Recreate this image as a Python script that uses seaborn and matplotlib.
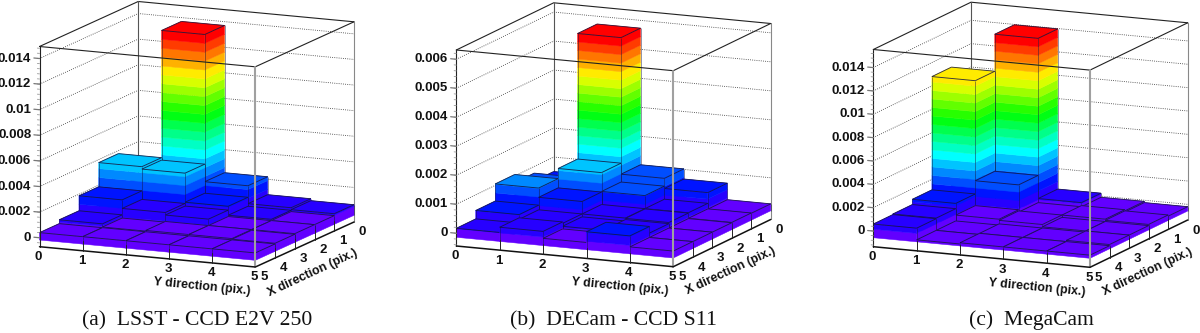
import numpy as np
import matplotlib
matplotlib.use("Agg")
import matplotlib.pyplot as plt
import seaborn as sns
from mpl_toolkits.mplot3d import proj3d
from mpl_toolkits.mplot3d.art3d import Poly3DCollection, Line3DCollection

sns.set_theme(style="white")
plt.rcParams["font.family"] = ["Liberation Sans", "DejaVu Sans"]

W, H = 1200, 333

# rows: X bin 0..4 (back to front), columns: Y bin 0..4 (left to right)
lsst_values = [
    [0.0012, 0.01370, 0.00220, 0.00080, 0.00065],
    [0.00376, 0.00357, 0.00130, 0.00060, 0.00050],
    [0.00187, 0.00120, 0.00100, 0.00050, 0.00050],
    [0.00070, 0.00045, 0.00050, 0.00050, 0.00045],
    [0.00040, 0.00040, 0.00040, 0.00040, 0.00040],
]
decam_values = [
    [0.00050, 0.00573, 0.00102, 0.00067, 0.00010],
    [0.00077, 0.00140, 0.00075, 0.00030, 0.00011],
    [0.00105, 0.00073, 0.00030, 0.00029, 0.00010],
    [0.00046, 0.00030, 0.00020, 0.00025, 0.00010],
    [0.00017, 0.00035, 0.00011, 0.00048, 0.00010],
]
megacam_values = [
    [0.00080, 0.01397, 0.00025, -0.00010, -0.00020],
    [0.01080, 0.00223, -0.00010, 0.00000, -0.00010],
    [0.00110, 0.00010, 0.00000, -0.00020, -0.00020],
    [0.00065, -0.00040, -0.00030, -0.00030, -0.00020],
    [0.00060, -0.00040, -0.00030, -0.00030, -0.00030],
]
lsst_ticks = [0, 0.002, 0.004, 0.006, 0.008, 0.01, 0.012, 0.014]
decam_ticks = [0, 0.001, 0.002, 0.003, 0.004, 0.005, 0.006]
megacam_ticks = lsst_ticks
captions = ["(a)  LSST - CCD E2V 250", "(b)  DECam - CCD S11", "(c)  MegaCam"]
bin_ticks = [0, 1, 2, 3, 4, 5]

panels = [
    dict(vals=lsst_values, ticks=lsst_ticks, zlim=(-0.00070, 0.01494), base=-0.00018, minor=0.0004,
         fl=(39.5, 246.7), fr=(255.3, 267), br=(354, 222), ztop=46.5, capx=197),
    dict(vals=decam_values, ticks=decam_ticks, zlim=(-0.00044, 0.00632), base=-0.00014, minor=0.0002,
         fl=(456.3, 246), fr=(673.3, 266.7), br=(770.7, 219.5), ztop=50, capx=613),
    dict(vals=megacam_values, ticks=megacam_ticks, zlim=(-0.00134, 0.01555), base=-0.00057, minor=0.0004,
         fl=(873.3, 246.7), fr=(1090, 267.3), br=(1187.7, 220), ztop=49.5, capx=1031),
]

N_LEVELS = 20
band_colors = sns.hls_palette(26, h=0.0, l=0.5, s=1.0)[:N_LEVELS][::-1]

fig = plt.figure(figsize=(W / 100, H / 100), dpi=100, facecolor="white")


def to_px(ax, x, y, z):
    a, b, _ = proj3d.proj_transform(x, y, z, ax.get_proj())
    p = ax.transData.transform((a, b))
    return p[0], H - p[1]


def fit_axes(ax, p):
    fl, fr, br = np.array(p["fl"]), np.array(p["fr"]), np.array(p["br"])
    ey, ex = fr - fl, br - fr
    zpx = fl[1] - p["ztop"]
    r1 = ey[1] / ey[0]
    r2 = -ex[1] / ex[0]
    sin_el = np.sqrt(r1 * r2)
    tan_phi = r1 / sin_el
    phi = np.arctan(tan_phi)
    el = np.arcsin(sin_el)
    a = ey[0] / np.cos(phi)
    b = ex[0] / np.sin(phi)
    c = zpx / np.cos(el)
    ax.view_init(elev=np.degrees(el), azim=np.degrees(phi), roll=0)
    ax.set_box_aspect((b, a, c))
    ax.set_xlim(0, 5, view_margin=0)
    ax.set_ylim(0, 5, view_margin=0)
    ax.set_zlim(*p["zlim"], view_margin=0)
    side = 400.0
    cx, cy = fl
    for _ in range(4):
        ax.set_position([(cx - side / 2) / W, 1 - (cy + side / 2) / H, side / W, side / H])
        ax.apply_aspect()
        q0 = to_px(ax, 5, 0, p["zlim"][0])
        q1 = to_px(ax, 0, 5, p["zlim"][0])
        side *= (br[0] - fl[0]) / (q1[0] - q0[0])
        ax.set_position([(cx - side / 2) / W, 1 - (cy + side / 2) / H, side / W, side / H])
        ax.apply_aspect()
        q0 = to_px(ax, 5, 0, p["zlim"][0])
        cx += fl[0] - q0[0]
        cy += fl[1] - q0[1]
    ax.set_position([(cx - side / 2) / W, 1 - (cy + side / 2) / H, side / W, side / H])
    ax.apply_aspect()


def draw_bar(ax, x0, y0, base, top, levels, order):
    x1, y1 = x0 + 1, y0 + 1
    polys, cols = [], []
    edges = np.concatenate(([base], levels[(levels > base) & (levels < top)], [top]))
    for lo, hi in zip(edges[:-1], edges[1:]):
        k = int(np.clip(np.searchsorted(levels, 0.5 * (lo + hi)) - 1, 0, N_LEVELS - 1))
        polys.append([(x1, y0, lo), (x1, y1, lo), (x1, y1, hi), (x1, y0, hi)])
        cols.append(band_colors[k])
        polys.append([(x1, y1, lo), (x0, y1, lo), (x0, y1, hi), (x1, y1, hi)])
        cols.append(band_colors[k])
    k_top = int(np.clip(np.searchsorted(levels, top) - 1, 0, N_LEVELS - 1))
    polys.append([(x0, y0, top), (x1, y0, top), (x1, y1, top), (x0, y1, top)])
    cols.append(band_colors[k_top])
    pc = Poly3DCollection(polys, facecolors=cols, edgecolors=cols, linewidths=0.35, zorder=order)
    ax.add_collection3d(pc, autolim=False)
    outline = [
        [(x0, y0, top), (x1, y0, top)], [(x1, y0, top), (x1, y1, top)],
        [(x1, y1, top), (x0, y1, top)], [(x0, y1, top), (x0, y0, top)],
    ]
    ax.add_collection3d(Line3DCollection(outline, colors="#14143c", linewidths=0.65, alpha=0.85, zorder=order + 0.5), autolim=False)
    verts = [[(x1, y1, base), (x1, y1, top)], [(x1, y0, base), (x1, y0, top)], [(x0, y1, base), (x0, y1, top)]]
    ax.add_collection3d(Line3DCollection(verts, colors="#14143c", linewidths=0.5, alpha=0.65, zorder=order + 0.5), autolim=False)


for p in panels:
    ax = fig.add_axes([0, 0, 1, 1], projection="3d", proj_type="ortho", computed_zorder=False)
    ax.set_axis_off()
    ax.patch.set_alpha(0)
    fit_axes(ax, p)
    zmin, zmax = p["zlim"]
    vals = np.array(p["vals"])
    levels = np.linspace(p["base"], vals.max(), N_LEVELS + 1)
    zpp = (zmax - zmin) / (p["fl"][1] - p["ztop"])

    # back walls
    for z in p["ticks"]:
        ax.plot([5, 0, 0], [0, 0, 5], [z, z, z], color="#333333", lw=0.6, ls=(0, (1, 1.6)), zorder=2)
    ax.plot([5, 0, 0], [0, 0, 5], [zmax] * 3, color="#222222", lw=0.8, zorder=3)
    ax.plot([0, 0], [0, 0], [zmin, zmax], color="#555555", lw=0.8, zorder=3)
    ax.plot([0, 0], [5, 5], [zmin, zmax], color="#888888", lw=0.8, zorder=3)

    # lego columns, painted from the back to the front
    order = 10
    for xb in range(5):
        for yb in range(5):
            draw_bar(ax, xb, yb, p["base"], vals[xb, yb], levels, order)
            order += 1

    # front of the box
    F = 500
    ax.plot([5, 5, 0], [0, 5, 5], [zmax] * 3, color="#222222", lw=0.8, zorder=F)
    ax.plot([5, 5], [0, 0], [zmin, zmax], color="#222222", lw=0.8, zorder=F)
    ax.plot([5, 5], [5, 5], [zmin, zmax], color="#a0a0a0", lw=1.5, zorder=F)
    ax.plot([5, 5, 0], [0, 5, 5], [zmin] * 3, color="#111111", lw=1.1, zorder=F)
    tick_len = 10 * zpp
    for t in bin_ticks[1:5]:
        ax.plot([5, 5], [t, t], [zmin, zmin + tick_len], color="#222222", lw=0.7, zorder=F)
        ax.plot([t, t], [5, 5], [zmin, zmin + tick_len], color="#222222", lw=0.7, zorder=F)

    # z axis ticks, as a ruler on the left edge
    for z in np.arange(zmin - zmin % p["minor"], zmax, p["minor"]):
        if z >= zmin:
            ax.plot([5, 5], [0, -0.05], [z, z], color="#999999", lw=0.6, zorder=F)
    for z in p["ticks"]:
        ax.plot([5, 5], [0, -0.13], [z, z], color="#777777", lw=0.9, zorder=F)

    tick_font = dict(family="Liberation Sans", weight="bold", fontsize=9.5, color="#111111")
    title_font = dict(family="Liberation Sans", weight="bold", fontsize=8.9, color="#111111")
    for z in p["ticks"]:
        px, py = to_px(ax, 5, 0, z)
        fig.text((px - 8.3) / W, 1 - py / H, f"{z:g}", ha="right", va="center", **tick_font)
    for t in bin_ticks:
        px, py = to_px(ax, 5, t, zmin)
        fig.text((px - 1) / W, 1 - (py + 10.5) / H, str(t), ha="center", va="center", **tick_font)
        px, py = to_px(ax, t, 5, zmin)
        fig.text((px + 8.5) / W, 1 - (py + 10.5) / H, str(t), ha="center", va="center", **tick_font)
    px, py = to_px(ax, 5, 3.77, zmin)
    fig.text(px / W, 1 - (py + 25) / H, "Y direction (pix.)", rotation=-5.5, rotation_mode="anchor",
             ha="center", va="center", **title_font)
    px, py = to_px(ax, 2.07, 5, zmin)
    fig.text(px / W, 1 - (py + 32) / H, "X direction (pix.)", rotation=25, rotation_mode="anchor",
             ha="center", va="center", **title_font)

for p, cap in zip(panels, captions):
    fig.text(p["capx"] / W, 1 - 320.5 / H, cap, family="Liberation Serif", fontsize=15.6,
             ha="center", va="center", color="#111111")

fig.savefig("out.png", dpi=100, facecolor="white")
